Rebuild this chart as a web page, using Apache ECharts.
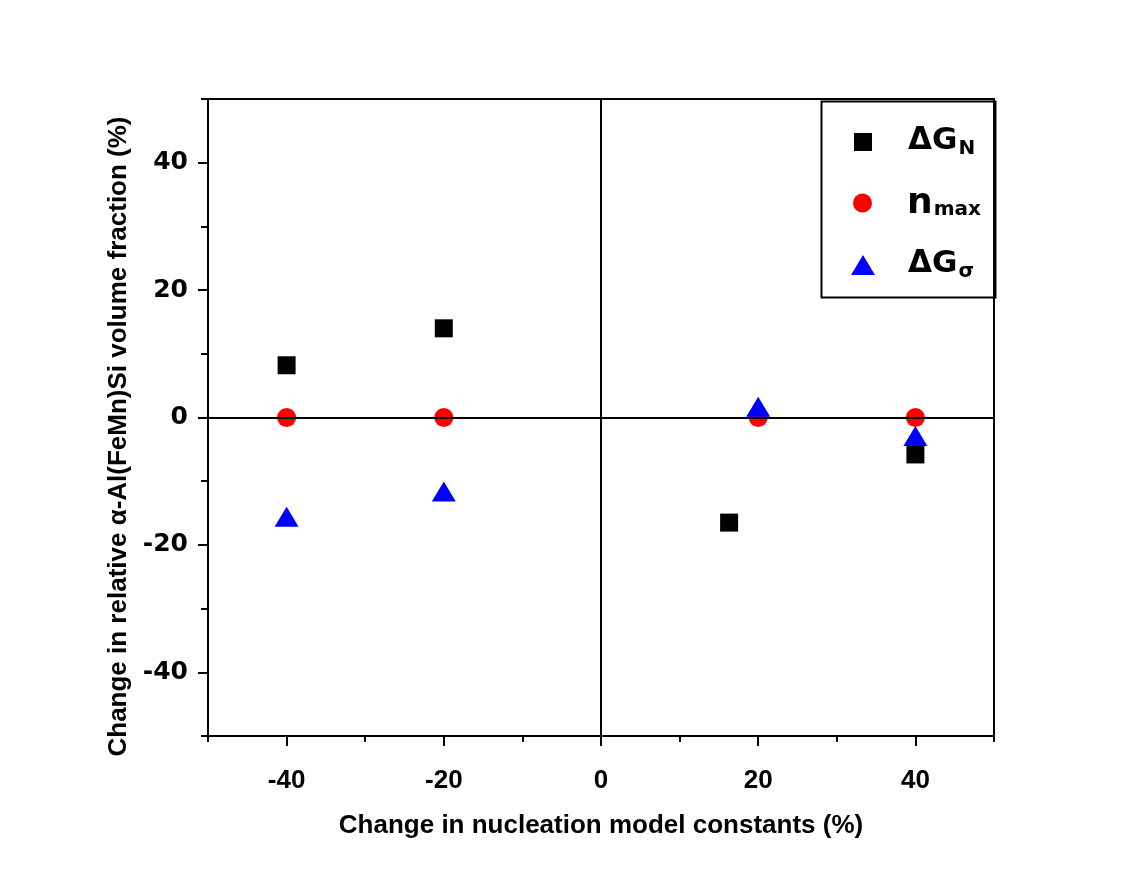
<!DOCTYPE html>
<html>
<head>
<meta charset="utf-8">
<script src="https://cdn.jsdelivr.net/npm/echarts@6/dist/echarts.min.js"></script>
<style>html,body{margin:0;padding:0;background:#fff;}#c{width:1148px;height:882px;}</style>
</head>
<body>
<div id="c"></div>
<script>
// ---- data ----
const xTitle = 'Change in nucleation model constants (%)';
const yTitle = 'Change in relative α-Al(FeMn)Si volume fraction (%)';
const xMajorTicks = [-40, -20, 0, 20, 40];
const xMinorTicks = [-50, -30, -10, 10, 30, 50];
const yMajorTicks = [-40, -20, 0, 20, 40];
const yMinorTicks = [-50, -30, -10, 10, 30, 50];
const seriesNames = ['ΔG_N', 'n_max', 'ΔG_σ'];
const dGN_x = [-40, -20, 16.3, 40];
const dGN_y = [8.2, 14.0, -16.5, -5.8];
const nmax_x = [-40, -20, 20, 40];
const nmax_y = [0, 0, 0, 0];
const dGs_x = [-40, -20, 20, 40];
const dGs_y = [-15.6, -11.6, 1.7, -2.9];

const zip = (xs, ys) => xs.map((x, i) => [x, ys[i]]);

const chart = echarts.init(document.getElementById('c'), null, {renderer: 'canvas'});

const tickFontY = {fontFamily: 'DejaVu Sans', fontWeight: 'bold', fontSize: 25, color: '#000'};
const tickFontX = {fontFamily: '"Liberation Sans Narrow", "Liberation Sans", Arial', fontWeight: 'bold', fontSize: 26, color: '#000'};

function legendFormatter(name) {
  const parts = name.split('_');
  return '{m|' + parts[0] + '}{s|' + parts[1] + '}';
}
function legendRich(padLeft, mainSize) {
  return {
    m: {fontFamily: 'DejaVu Sans', fontWeight: 'bold', fontSize: mainSize, color: '#000', lineHeight: 34, verticalAlign: 'top', padding: [0, 0, 0, padLeft]},
    s: {fontFamily: 'DejaVu Sans', fontWeight: 'bold', fontSize: 20, color: '#000', lineHeight: 22, verticalAlign: 'bottom', padding: [20, 0, 0, 1]}
  };
}
function makeLegend(name, icon, w, h, left, top, padLeft, mainSize) {
  return {
    data: [{name: name, icon: icon}],
    orient: 'vertical',
    left: left, top: top, padding: 0,
    itemWidth: w, itemHeight: h,
    selectedMode: false,
    formatter: legendFormatter,
    textStyle: {rich: legendRich(padLeft, mainSize)}
  };
}

const option = {
  animation: false,
  backgroundColor: '#fff',
  grid: {left: 208, right: 154, top: 99, bottom: 146, show: true, borderColor: '#000', borderWidth: 2, containLabel: false},
  legend: [
    makeLegend(seriesNames[0], 'rect', 18, 18, 854, 119, 31, 31),
    makeLegend(seriesNames[1], 'circle', 19, 19, 853, 180, 30, 36),
    makeLegend(seriesNames[2], 'triangle', 24, 20, 851, 242, 28, 31)
  ],
  graphic: [{
    type: 'rect', left: 819, top: 99, z: 10, silent: true,
    shape: {width: 174, height: 196},
    style: {fill: 'none', stroke: '#000', lineWidth: 2}
  }],
  xAxis: [{
    type: 'value', min: -50, max: 50, position: 'bottom',
    name: xTitle, nameLocation: 'middle', nameGap: 77,
    nameTextStyle: {fontFamily: '"Liberation Sans", Arial', fontWeight: 'bold', fontSize: 26, color: '#000'},
    axisLine: {show: true, onZero: false, lineStyle: {color: '#000', width: 2}},
    axisTick: {show: true, inside: false, length: 10, customValues: xMajorTicks, lineStyle: {color: '#000', width: 2}},
    axisLabel: Object.assign({show: true, margin: 32, customValues: xMajorTicks}, tickFontX),
    splitLine: {show: false}
  }, {
    type: 'value', min: -50, max: 50, position: 'bottom',
    axisLine: {show: false, onZero: false},
    axisTick: {show: true, inside: false, length: 6, customValues: xMinorTicks, lineStyle: {color: '#000', width: 2}},
    axisLabel: {show: false},
    splitLine: {show: false}
  }],
  yAxis: [{
    type: 'value', min: -50, max: 50, position: 'left',
    name: yTitle, nameLocation: 'middle', nameGap: 70, nameRotate: 90,
    nameTextStyle: {fontFamily: '"Liberation Sans", Arial', fontWeight: 'bold', fontSize: 26, color: '#000', padding: [0, 38, 0, 0]},
    axisLine: {show: true, onZero: false, lineStyle: {color: '#000', width: 2}},
    axisTick: {show: true, inside: false, length: 10, customValues: yMajorTicks, lineStyle: {color: '#000', width: 2}},
    axisLabel: Object.assign({show: true, margin: 20, customValues: yMajorTicks}, tickFontY),
    splitLine: {show: false}
  }, {
    type: 'value', min: -50, max: 50, position: 'left',
    axisLine: {show: false, onZero: false},
    axisTick: {show: true, inside: false, length: 7, customValues: yMinorTicks, lineStyle: {color: '#000', width: 2}},
    axisLabel: {show: false},
    splitLine: {show: false}
  }],
  series: [{
    name: seriesNames[0], type: 'scatter', xAxisIndex: 0, yAxisIndex: 0,
    symbol: 'rect', symbolSize: 18,
    itemStyle: {color: '#000', opacity: 1},
    data: zip(dGN_x, dGN_y),
    z: 2,
    markLine: {
      silent: true, symbol: 'none', label: {show: false},
      lineStyle: {color: '#000', width: 2, type: 'solid'},
      emphasis: {disabled: true},
      data: [{yAxis: 0}, {xAxis: 0}]
    }
  }, {
    name: seriesNames[1], type: 'scatter', xAxisIndex: 0, yAxisIndex: 0,
    symbol: 'circle', symbolSize: 19,
    itemStyle: {color: '#ff0000', opacity: 1},
    data: zip(nmax_x, nmax_y),
    z: 3
  }, {
    name: seriesNames[2], type: 'scatter', xAxisIndex: 0, yAxisIndex: 0,
    symbol: 'triangle', symbolSize: [24, 20],
    itemStyle: {color: '#0000ff', opacity: 1},
    data: zip(dGs_x, dGs_y),
    z: 4
  }]
};
chart.setOption(option);
</script>
</body>
</html>
